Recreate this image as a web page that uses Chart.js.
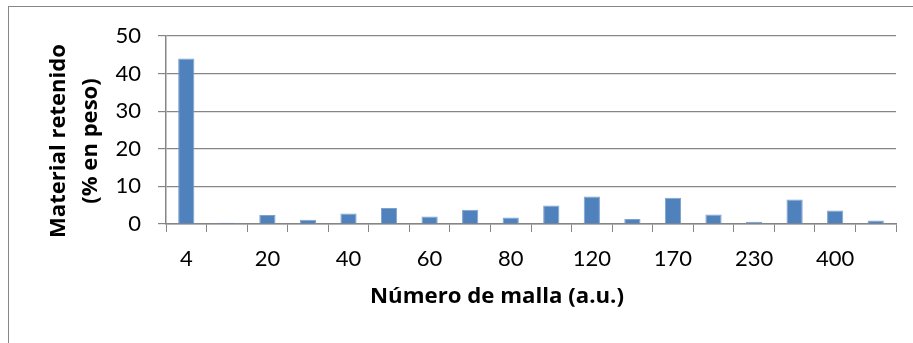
<!DOCTYPE html>
<html>
<head>
<meta charset="utf-8">
<script src="https://cdn.jsdelivr.net/npm/chart.js@4/dist/chart.umd.min.js"></script>
<style>
  html, body { margin: 0; padding: 0; background: #fff; }
  #wrap { width: 913px; height: 343px; position: relative; }
</style>
</head>
<body>
<div id="wrap"><canvas id="c" width="913" height="343"></canvas></div>
<script>
// Tamices (número de malla) y material retenido en cada uno (% en peso)
const mallas = ['4', '10', '20', '30', '40', '50', '60', '70', '80', '100',
                '120', '140', '170', '200', '230', '270', '400', 'Fondo'];
const retenido = [44.0, 0.35, 2.4, 1.15, 2.8, 4.25, 2.0, 3.8, 1.7, 4.9,
                  7.3, 1.3, 6.95, 2.5, 0.6, 6.5, 3.6, 0.9];
const tituloY = ['Material retenido', '(% en peso)'];
const tituloX = 'Número de malla (a.u.)';

const FONT = 'Lato, "Open Sans", sans-serif';
const FONT_TITULO = '"Open Sans", Lato, sans-serif';
const GRIS = '#868686';

// Ajusta el tamaño de letra para que el texto ocupe el ancho indicado
function fuenteAjustada(ctx, texto, ancho) {
  ctx.font = 'bold 20px ' + FONT_TITULO;
  const w = ctx.measureText(texto).width;
  return 'bold ' + (20 * ancho / w).toFixed(2) + 'px ' + FONT_TITULO;
}

// Marco del área del gráfico y títulos de los ejes
const decoracion = {
  id: 'decoracion',
  beforeDraw(chart) {
    const ctx = chart.ctx;
    ctx.save();
    ctx.fillStyle = '#fff';
    ctx.fillRect(0, 0, chart.width, chart.height);
    ctx.strokeStyle = GRIS;
    ctx.lineWidth = 1;
    ctx.strokeRect(8.5, 6.5, 1200, 1200);
    ctx.restore();
  },
  afterDraw(chart) {
    const ctx = chart.ctx;
    ctx.save();
    ctx.fillStyle = '#000';
    ctx.textAlign = 'center';
    ctx.textBaseline = 'middle';
    // título del eje Y, girado
    ctx.save();
    ctx.font = fuenteAjustada(ctx, tituloY[0], 194);
    ctx.translate(59, 141);
    ctx.rotate(-Math.PI / 2);
    ctx.fillText(tituloY[0], 0, 0);
    ctx.fillText(tituloY[1], 0, 32);
    ctx.restore();
    // título del eje X
    ctx.font = fuenteAjustada(ctx, tituloX, 254);
    ctx.fillText(tituloX, 497, 297);
    ctx.restore();
  }
};

new Chart(document.getElementById('c'), {
  type: 'bar',
  data: {
    labels: mallas,
    datasets: [{
      data: retenido,
      backgroundColor: '#4F81BD',
      borderColor: '#7EA2CE',
      borderWidth: { top: 1, left: 1, right: 1, bottom: 0 },
      barPercentage: 0.4,
      categoryPercentage: 1.0
    }]
  },
  options: {
    responsive: false,
    animation: false,
    events: [],
    layout: { padding: { top: 36, right: 17, bottom: 0, left: 0 } },
    plugins: { legend: { display: false }, tooltip: { enabled: false } },
    scales: {
      x: {
        afterFit(scale) { scale.height = 119; },
        grid: {
          offset: true,
          drawOnChartArea: false,
          drawTicks: true,
          tickLength: 8,
          color: GRIS,
          lineWidth: 1
        },
        border: { display: true, color: GRIS, width: 1.5 },
        ticks: {
          autoSkip: false,
          maxRotation: 0,
          padding: 14,
          color: '#000',
          font: { family: FONT, size: 22 },
          callback(value, index) { return index % 2 === 0 ? mallas[index] : ''; }
        }
      },
      y: {
        min: 0,
        max: 50,
        afterFit(scale) { scale.width = 166; },
        grid: {
          color: GRIS,
          lineWidth: 1.2,
          tickLength: 8
        },
        border: { display: true, color: GRIS, width: 1.5 },
        ticks: {
          stepSize: 10,
          padding: 17,
          color: '#000',
          font: { family: FONT, size: 22 }
        }
      }
    }
  },
  plugins: [decoracion]
});
</script>
</body>
</html>
